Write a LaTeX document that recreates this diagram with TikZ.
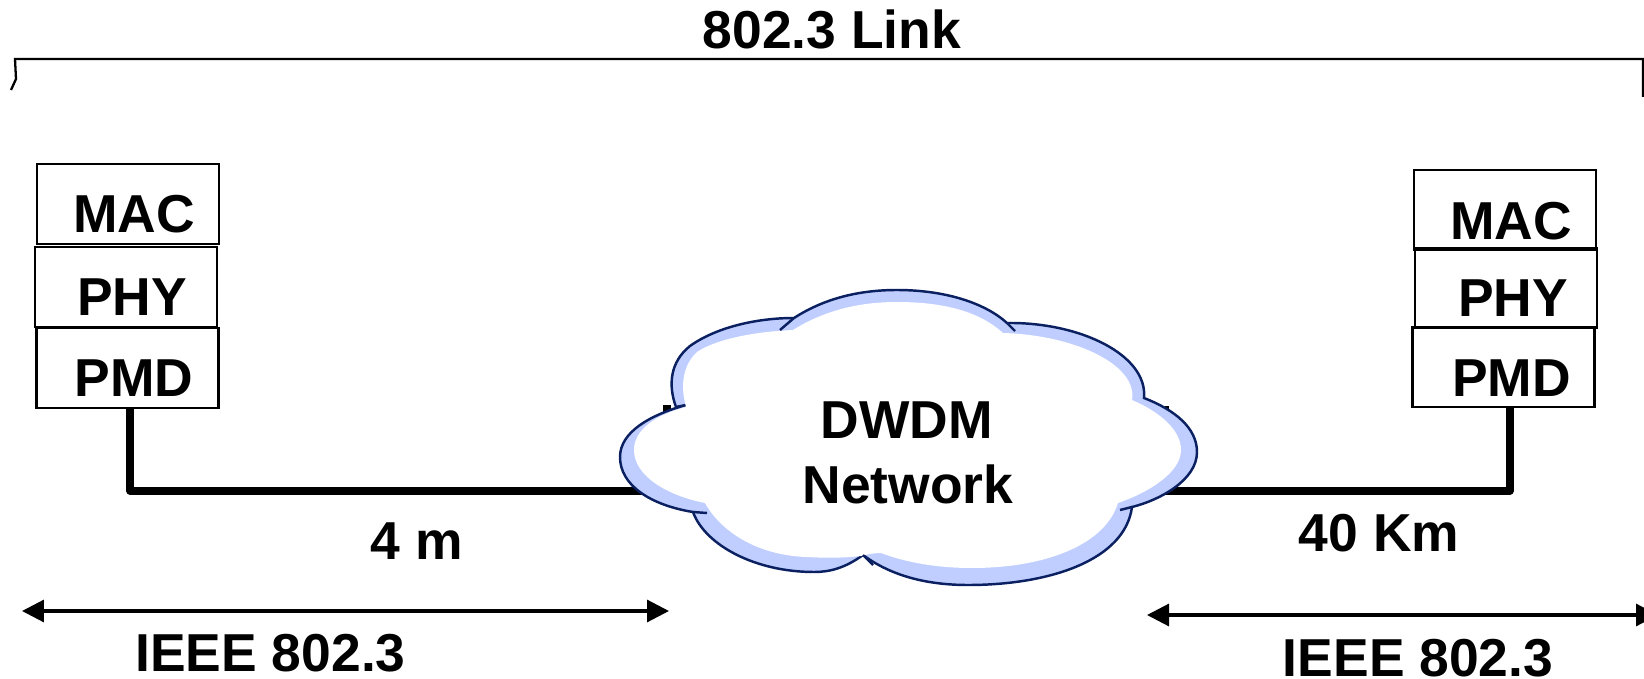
\documentclass[tikz,border=0pt]{standalone}
\usepackage{fontspec}
\setmainfont{Liberation Sans}
\usetikzlibrary{arrows.meta}

\definecolor{cloudblue}{HTML}{BFCEFF}
\definecolor{cloudline}{HTML}{0A2060}

\begin{document}
\begin{tikzpicture}[
            x=0.02cm, y=-0.02cm,
            box/.style={draw, line width=1.3pt, minimum width=3.64cm, minimum height=1.6cm, inner sep=0pt},
            lab/.style={font=\fontsize{30.4}{36}\selectfont\bfseries, anchor=base, inner sep=0pt},
            wire/.style={line width=4pt, line join=round},
            span/.style={line width=1.8pt, {Triangle[length=0.44cm, width=0.44cm]}-{Triangle[length=0.44cm, width=0.44cm]}},
            edge/.style={draw=cloudline, line width=1.4pt}
        ]

        \clip (0,0) rectangle (1644,679);

        % coordinates
        \coordinate (linkl)  at (11,90);
        \coordinate (linkr)  at (1643,97);
        \coordinate (cloudw) at (660,491);
        \coordinate (cloude) at (1150,491);

        \coordinate (spanla) at (22,611);
        \coordinate (spanlb) at (669,611);
        \coordinate (spanra) at (1147,615);
        \coordinate (spanrb) at (1658,615);

        % bracket
        \draw[line width=1.3pt] (linkl) -- (16,79) -- (15,59) -- (1643,59) -- (linkr);
        \node[lab] (link) at (832,49) {802.3 Link};

        % left stack
        \node[box] (macl) at (128,204) {};
        \node[box] (phyl) at (126,287) {};
        \node[box] (pmdl) at (127.5,368) {};
        \node[lab] (macltext) at (134,233) {MAC};
        \node[lab] (phyltext) at (132,315) {PHY};
        \node[lab] (pmdltext) at (134,396) {PMD};

        % right stack
        \node[box] (macr) at (1505,210) {};
        \node[box] (phyr) at (1506,288) {};
        \node[box] (pmdr) at (1503.5,367) {};
        \node[lab] (macrtext) at (1511,239) {MAC};
        \node[lab] (phyrtext) at (1513,316) {PHY};
        \node[lab] (pmdrtext) at (1511.5,396) {PMD};

        % wires
        \draw[wire] ([xshift=0.05cm]pmdl.south) |- (cloudw);
        \draw[wire] ([xshift=0.13cm]pmdr.south) |- (cloude);

        % specks behind the cloud
        \fill (663,405) rectangle (671,413);
        \fill (1165,406) rectangle (1169,415);

        % cloud
        \draw[edge, fill=cloudblue] (794,318)
            .. controls (825,298) and (860,290) .. (897,290)
            .. controls (945,290) and (985,303) .. (1007,323)
            .. controls (1080,322) and (1148,355) .. (1144,398)
            .. controls (1175,410) and (1197,428) .. (1197,452)
            .. controls (1197,480) and (1160,500) .. (1132,507)
            .. controls (1125,560) and (1050,585) .. (968,585)
            .. controls (925,585) and (890,575) .. (863,555)
            .. controls (845,568) and (830,572) .. (814,572)
            .. controls (755,572) and (705,545) .. (693,512)
            .. controls (650,505) and (620,485) .. (620,457)
            .. controls (620,432) and (650,415) .. (686,405)
            -- (676,407)
            .. controls (668,385) and (670,362) .. (690,346)
            .. controls (715,328) and (755,318) .. (794,318) -- cycle;
        \fill[white] (793,330)
            .. controls (825,310) and (860,302) .. (897,302)
            .. controls (945,302) and (980,312) .. (1003,333)
            .. controls (1075,335) and (1138,365) .. (1132,400)
            .. controls (1160,412) and (1181,430) .. (1181,450)
            .. controls (1181,472) and (1150,492) .. (1118,503)
            .. controls (1105,545) and (1045,568) .. (972,568)
            .. controls (935,568) and (905,562) .. (881,553)
            .. controls (875,553) and (868,554) .. (861,556)
            .. controls (845,558) and (825,558) .. (806,557)
            .. controls (755,555) and (720,530) .. (705,503)
            .. controls (665,495) and (634,475) .. (634,450)
            .. controls (634,430) and (655,415) .. (686,407)
            .. controls (680,385) and (683,365) .. (697,352)
            .. controls (715,340) and (750,332) .. (793,330) -- cycle;
        \draw[edge] (794,318) -- (780,330);
        \draw[edge] (1007,323) -- (1015,331);
        \draw[edge] (1132,507) -- (1120,510);
        \draw[edge] (863,555) -- (873,565);
        \draw[edge] (693,512) -- (707,513);
        \node[lab] (dwdm) at (907,438) {DWDM};
        \node[lab] (network) at (908,503) {Network};

        % spans
        \node[lab] (lenl) at (417,559) {4 m};
        \node[lab] (lenr) at (1379,551) {40 Km};
        \draw[span] (spanla) -- (spanlb);
        \draw[span] (spanra) -- (spanrb);
        \node[lab] (ieeel) at (270.5,671) {IEEE 802.3};
        \node[lab] (ieeer) at (1418,676) {IEEE 802.3};
    \end{tikzpicture}
\end{document}
